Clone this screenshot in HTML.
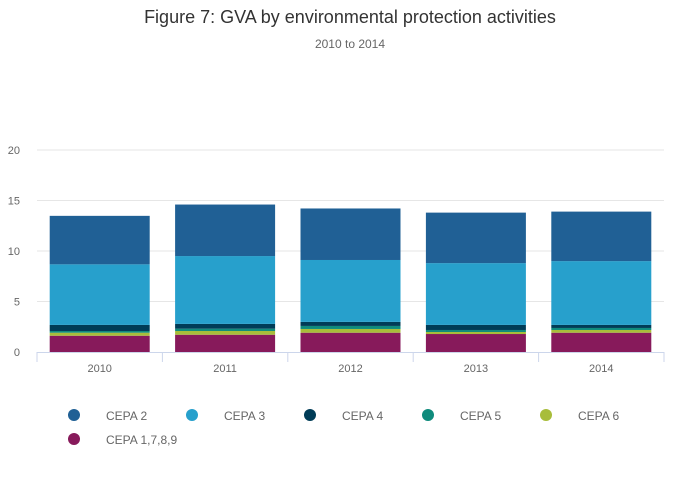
<!DOCTYPE html>
<html><head><meta charset="utf-8"><style>
body{margin:0;background:#fff;font-family:"Liberation Sans",sans-serif;}
#wrap{position:relative;width:700px;height:502px;overflow:hidden;}
.t{position:absolute;left:0;width:700px;text-align:center;}
</style></head><body>
<div id="wrap">
<div class="t" style="top:7px;font-size:18px;color:#333">Figure 7: GVA by environmental protection activities</div>
<div class="t" style="top:37px;font-size:12px;color:#666">2010 to 2014</div>
<svg id="svg" width="700" height="502" style="position:absolute;left:0;top:0"></svg>
</div>
<script>
const categories=["2010","2011","2012","2013","2014"];
const seriesNames=["CEPA 1,7,8,9","CEPA 6","CEPA 5","CEPA 4","CEPA 3","CEPA 2"];
const cepa1789=[1.61,1.71,1.91,1.78,1.91];
const cepa6=[0.30,0.37,0.37,0.20,0.27];
const cepa5=[0.17,0.23,0.30,0.20,0.20];
const cepa4=[0.60,0.47,0.40,0.50,0.30];
const cepa3=[6.0,6.72,6.13,6.12,6.32];
const cepa2=[4.8,5.1,5.1,5.0,4.9];
const yTicks=[0,5,10,15,20];
const colors=["#871a5b","#a8bd3a","#0f8b7c","#003c57","#27a0cc","#206095"];
const series=[cepa1789,cepa6,cepa5,cepa4,cepa3,cepa2];
const svg=document.getElementById('svg');
const NS="http://www.w3.org/2000/svg";
const x0=37,x1=664,yb=352,yt=150,yMax=20;
const y=v=>yb-(v/yMax)*(yb-yt);
const bw=(x1-x0)/categories.length;
const xc=i=>x0+bw*(i+0.5);
function mk(tag,a){const e=document.createElementNS(NS,tag);for(const k in a)e.setAttribute(k,a[k]);svg.appendChild(e);return e;}
yTicks.forEach(t=>{
 if(t>0){const g=mk('line',{x1:x0,x2:x1,y1:y(t),y2:y(t),stroke:'#e6e6e6'});
 
 }
 const l=mk('text',{x:20,y:y(t)+4,'font-size':11,fill:'#666','text-anchor':'end'});l.textContent=t;
 
 
});
categories.forEach((c,i)=>{
 let cum=0;
 series.forEach((s,k)=>{
  const r=mk('rect',{x:xc(i)-50,width:100,y:y(cum+s[i]),height:y(cum)-y(cum+s[i]),fill:colors[k]});
  
  
  cum+=s[i];
 });
 const l=mk('text',{x:xc(i),y:372,'font-size':11,fill:'#666','text-anchor':'middle'});l.textContent=c;
 
 
});
const ax=mk('line',{x1:x0,x2:x1,y1:yb+0.5,y2:yb+0.5,stroke:'#ccd6eb'});


for(let i=0;i<=categories.length;i++){
 const tk=mk('line',{x1:x0+bw*i,x2:x0+bw*i,y1:yb,y2:yb+10,stroke:'#ccd6eb'});
 
 
}
const legOrder=[5,4,3,2,1,0];
legOrder.forEach((k,j)=>{
 const col=j%5,row=Math.floor(j/5);
 const lx=74+col*118,ly=415+row*24;
 const c=mk('circle',{cx:lx,cy:ly,r:6,fill:colors[k]});
 
 
 const t=mk('text',{x:lx+32,y:ly+5,'font-size':12,fill:'#666'});t.textContent=seriesNames[k];
 
 
});
</script>
</body></html>
